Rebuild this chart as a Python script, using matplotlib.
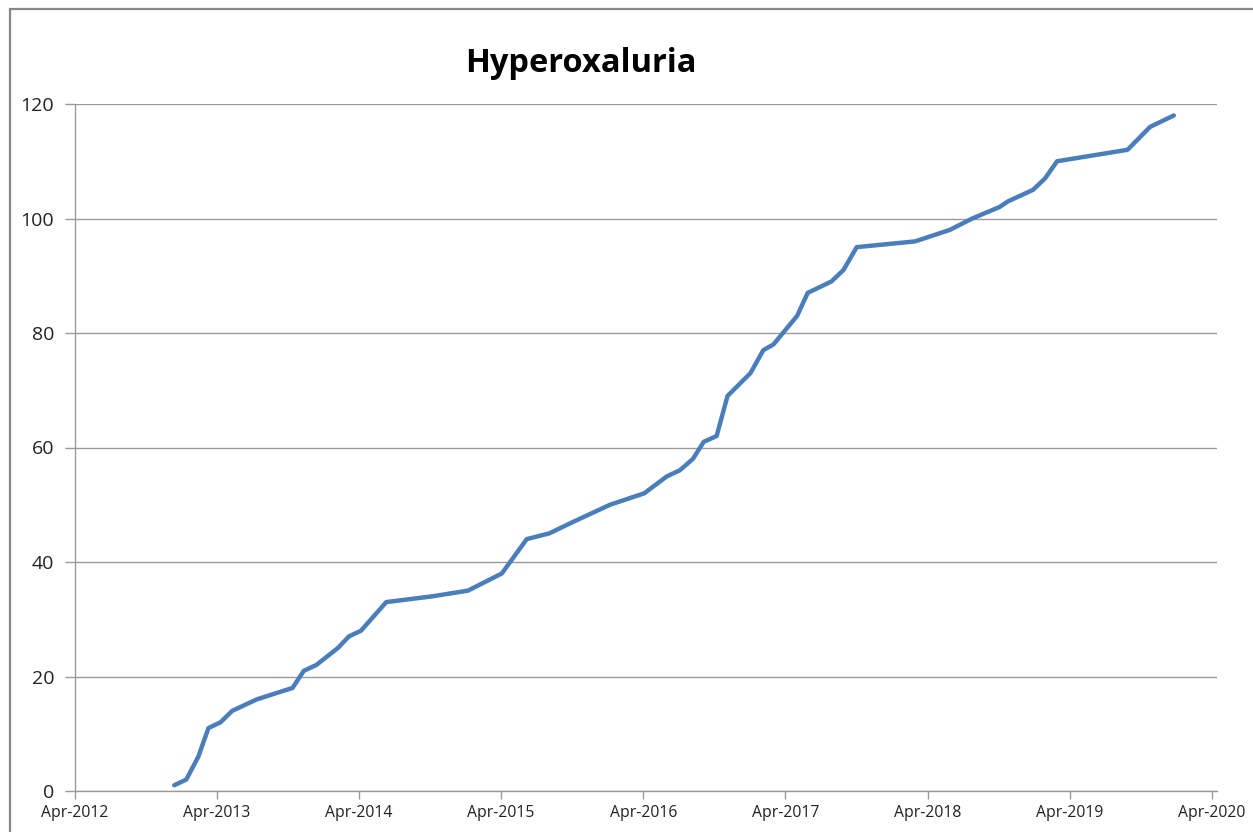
import matplotlib
matplotlib.use("Agg")
import matplotlib.pyplot as plt
import matplotlib.dates as mdates
from matplotlib.patches import Rectangle
import numpy as np

# cumulative count of cases
dates = ["2012-12-12", "2013-01-12", "2013-02-12", "2013-03-10", "2013-04-10",
         "2013-05-10", "2013-07-12", "2013-10-12", "2013-11-10", "2013-12-12",
         "2014-02-06", "2014-03-06", "2014-04-06", "2014-06-10", "2014-10-06",
         "2015-01-06", "2015-04-03", "2015-06-06", "2015-08-03", "2015-10-03",
         "2016-01-06", "2016-04-03", "2016-06-01", "2016-07-03", "2016-08-06",
         "2016-09-03", "2016-10-06", "2016-11-03", "2017-01-01", "2017-02-03",
         "2017-03-01", "2017-05-01", "2017-05-28", "2017-07-28", "2017-08-28",
         "2017-10-01", "2018-02-28", "2018-05-28", "2018-07-25", "2018-10-03",
         "2018-10-25", "2018-12-28", "2019-01-28", "2019-02-28", "2019-08-28",
         "2019-10-25", "2019-12-25"]
counts = [1, 2, 6, 11, 12, 14, 16, 18, 21, 22,
          25, 27, 28, 33, 34, 35, 38, 44, 45, 47,
          50, 52, 55, 56, 58, 61, 62, 69, 73, 77,
          78, 83, 87, 89, 91, 95, 96, 98, 100, 102,
          103, 105, 107, 110, 112, 116, 118]
title = "Hyperoxaluria"
yticks = [0, 20, 40, 60, 80, 100, 120]
tick_years = list(range(2012, 2021))

W, H = 1253, 832
fig = plt.figure(figsize=(W / 100, H / 100), dpi=100)
plt.rcParams['font.family'] = ['Open Sans', 'DejaVu Sans']

# outer chart frame (cut off at right and bottom)
fig.patches.append(Rectangle((10 / W, -0.05), 1.1, (H - 9) / H + 0.05,
                             transform=fig.transFigure, fill=False,
                             edgecolor="#878787", linewidth=1.6, clip_on=False))

ax = fig.add_axes([75 / W, 41 / H, (1217 - 75) / W, (791 - 104) / H])

x = np.array(dates, dtype="datetime64[D]")
ax.plot(x, counts, color="#4a7ebb", linewidth=3.2, solid_capstyle="round",
        solid_joinstyle="round", zorder=3)

ax.set_ylim(0, 120)
ax.set_yticks(yticks)
ax.set_xlim(np.datetime64("2012-04-01"), np.datetime64("2020-04-14"))
ax.set_xticks([np.datetime64(f"{y}-04-01") for y in tick_years])
ax.xaxis.set_major_formatter(mdates.DateFormatter("%b-%Y"))

ax.grid(axis="y", color="#9a9a9a", linewidth=1.0)
ax.set_axisbelow(True)
for s in ["top", "right"]:
    ax.spines[s].set_visible(False)
for s in ["left", "bottom"]:
    ax.spines[s].set_color("#9a9a9a")
    ax.spines[s].set_linewidth(1.0)

ax.tick_params(axis="y", direction="out", length=7, width=1.0, color="#9a9a9a",
               labelsize=14, pad=8, labelcolor="#222222")
ax.tick_params(axis="x", direction="out", length=6, width=1.0, color="#9a9a9a",
               labelsize=11.3, pad=4, labelcolor="#222222")

fig.text(581 / W, 1 - 63 / H, title, ha="center", va="center",
         fontsize=23.5, fontweight="bold", color="black")

fig.savefig("out.png", dpi=100)
